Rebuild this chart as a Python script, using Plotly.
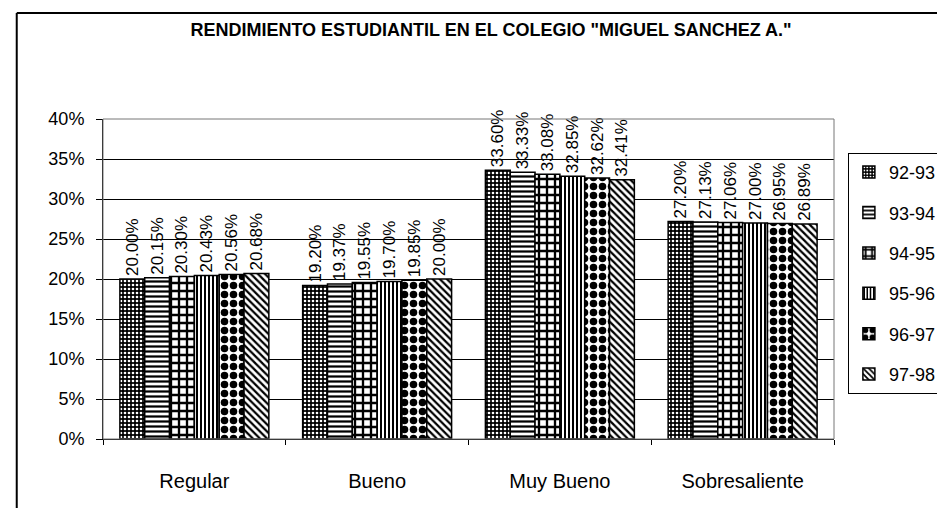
import plotly.graph_objects as go

categories = ["Regular", "Bueno", "Muy Bueno", "Sobresaliente"]
years = ["92-93", "93-94", "94-95", "95-96", "96-97", "97-98"]

v_92_93 = [20.00, 19.20, 33.60, 27.20]
v_93_94 = [20.15, 19.37, 33.33, 27.13]
v_94_95 = [20.30, 19.55, 33.08, 27.06]
v_95_96 = [20.43, 19.70, 32.85, 27.00]
v_96_97 = [20.56, 19.85, 32.62, 26.95]
v_97_98 = [20.68, 20.00, 32.41, 26.89]
series = [v_92_93, v_93_94, v_94_95, v_95_96, v_96_97, v_97_98]

y_ticks = [0, 5, 10, 15, 20, 25, 30, 35, 40]

# pattern per season: shape, background, foreground, size, solidity
patterns = [
    dict(shape=".", bgcolor="black", fgcolor="white", size=4, solidity=0.35),
    dict(shape="-", bgcolor="white", fgcolor="black", size=5, solidity=0.45),
    dict(shape="+", bgcolor="white", fgcolor="black", size=8, solidity=0.5),
    dict(shape="|", bgcolor="white", fgcolor="black", size=4, solidity=0.5),
    dict(shape=".", bgcolor="white", fgcolor="black", size=9, solidity=0.55),
    dict(shape="\\", bgcolor="white", fgcolor="black", size=5, solidity=0.45),
]

BASE_FONT = "Liberation Sans, Arial, sans-serif"

fig = go.Figure()
for i, (yr, vals) in enumerate(zip(years, series)):
    p = patterns[i]
    fig.add_trace(go.Bar(
        x=categories,
        y=[v / 100 for v in vals],
        name=yr,
        legendgroup=yr,
        text=[f"{v:.2f}%" for v in vals],
        textposition="outside",
        textangle=-90,
        constraintext="none",
        cliponaxis=False,
        textfont=dict(family=BASE_FONT, size=17, color="black"),
        marker=dict(
            color=p["bgcolor"],
            line=dict(color="black", width=1.5),
            pattern=dict(shape=p["shape"], bgcolor=p["bgcolor"], fgcolor=p["fgcolor"],
                         size=p["size"], solidity=p["solidity"], fillmode="replace"),
        ),
    ))

fig.update_layout(
    width=945, height=508,
    barmode="group",
    bargap=0.185,
    bargroupgap=0,
    paper_bgcolor="white",
    plot_bgcolor="white",
    margin=dict(l=95, r=119, t=111, b=77, autoexpand=False),
    title=dict(
        text='RENDIMIENTO ESTUDIANTIL EN EL COLEGIO "MIGUEL SANCHEZ A."',
        x=483 / 945, xanchor="center", y=1 - 22 / 508, yanchor="middle",
        font=dict(family=BASE_FONT, size=18, color="black", weight="bold"),
    ),
    font=dict(family=BASE_FONT, color="black"),
    showlegend=True,
    legend=dict(
        x=1.019, xanchor="left", y=0.894, yanchor="top",
        bordercolor="black", borderwidth=1,
        font=dict(family=BASE_FONT, size=18, color="black"),
        tracegroupgap=14,
        itemwidth=30,
    ),
    xaxis=dict(
        showline=True, linecolor="black", linewidth=1,
        ticks="outside", tickson="boundaries", ticklen=5, tickcolor="black",
        ticklabelstandoff=24,
        tickfont=dict(family=BASE_FONT, size=20, color="black"),
    ),
    yaxis=dict(
        range=[0, 0.4],
        tickvals=[t / 100 for t in y_ticks],
        ticktext=[f"{t}%" for t in y_ticks],
        showgrid=True, gridcolor="black", gridwidth=1,
        showline=True, linecolor="black", linewidth=1,
        ticks="outside", ticklen=6, tickcolor="black",
        ticklabelstandoff=8,
        tickfont=dict(family=BASE_FONT, size=18, color="black"),
        zeroline=False,
    ),
    shapes=[
        # plot area border
        dict(type="rect", xref="paper", yref="paper", x0=0, x1=1, y0=0, y1=1,
             line=dict(color="#777777", width=1)),
        # outer chart frame (scanned, partly visible)
        dict(type="line", xref="paper", yref="paper", x0=-0.118, x1=1.2, y0=1.331, y1=1.331,
             line=dict(color="black", width=2)),
        dict(type="line", xref="paper", yref="paper", x0=-0.118, x1=-0.118, y0=-0.25, y1=1.331,
             line=dict(color="black", width=2)),
        dict(type="line", xref="paper", yref="paper", x0=0.57, x1=1.2, y0=-0.222, y1=-0.222,
             line=dict(color="black", width=2)),
    ],
)

fig.write_html("out.html")
